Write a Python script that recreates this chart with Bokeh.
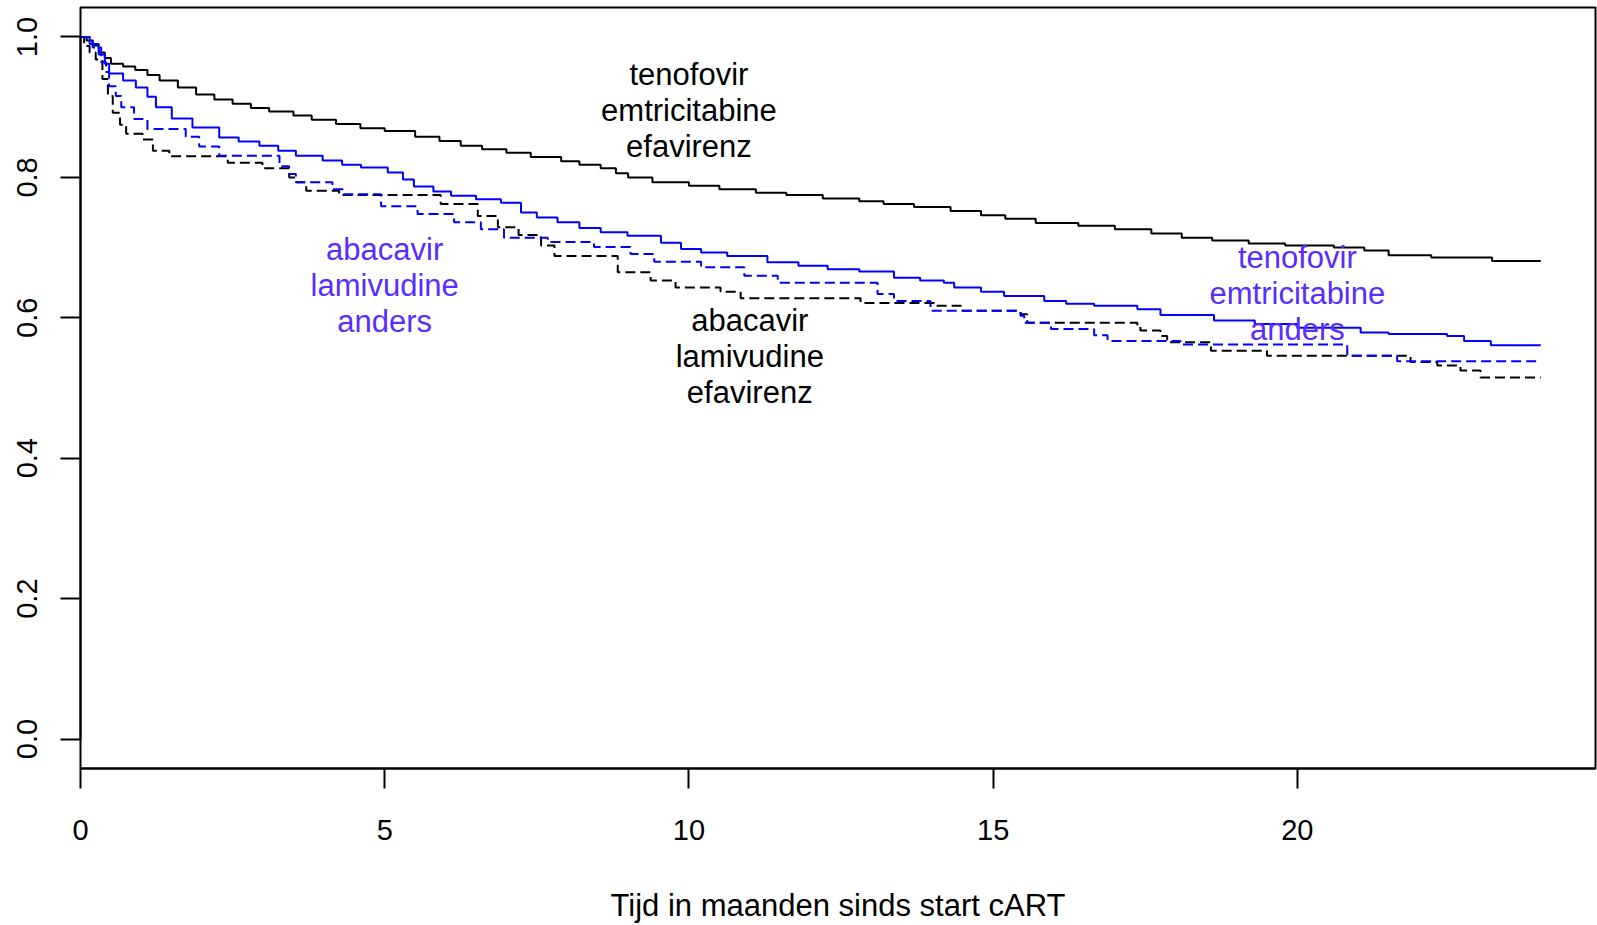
from bokeh.plotting import figure
from bokeh.models import FixedTicker, NumeralTickFormatter, Range1d, ColumnDataSource
from bokeh.embed import file_html
from bokeh.resources import INLINE
from bokeh.core.properties import value

# ---- data (Kaplan-Meier style step curves) ----
tef_t = [0, 0.1, 0.2, 0.3, 0.4, 0.5, 0.7, 0.9, 1.1, 1.3, 1.6, 1.9, 2.2, 2.5, 2.8, 3.1, 3.5, 3.8,
         4.2, 4.6, 5.0, 5.5, 5.9, 6.25, 6.6, 7.0, 7.4, 7.9, 8.2, 8.55, 8.8, 9.0, 9.4, 10.0, 10.5,
         11.1, 11.6, 12.2, 12.8, 13.2, 13.7, 14.3, 14.8, 15.2, 15.7, 16.4, 17.0, 17.6, 18.1, 18.6,
         19.2, 19.8, 20.6, 21.1, 21.5, 22.2, 23.2, 24.0]
tef_s = [1.0, 0.995, 0.988, 0.978, 0.97, 0.962, 0.958, 0.953, 0.946, 0.938, 0.928, 0.918, 0.911,
         0.905, 0.899, 0.894, 0.888, 0.882, 0.876, 0.870, 0.866, 0.858, 0.852, 0.845, 0.840, 0.835,
         0.829, 0.823, 0.818, 0.813, 0.806, 0.800, 0.793, 0.788, 0.783, 0.778, 0.775, 0.770, 0.766,
         0.762, 0.758, 0.752, 0.746, 0.741, 0.735, 0.731, 0.726, 0.720, 0.714, 0.710, 0.706, 0.703,
         0.700, 0.696, 0.689, 0.686, 0.681, 0.681]

tea_t = [0, 0.15, 0.3, 0.4, 0.47, 0.7, 0.91, 1.1, 1.24, 1.5, 1.84, 2.28, 2.6, 2.94, 3.25, 3.54,
         3.98, 4.3, 4.61, 5.05, 5.3, 5.48, 5.8, 6.09, 6.5, 6.91, 7.24, 7.5, 7.84, 8.2, 8.55, 8.99,
         9.54, 9.87, 10.2, 10.63, 11.29, 11.8, 12.28, 12.8, 13.37, 13.8, 14.19, 14.36, 14.8, 15.18,
         15.84, 16.2, 16.66, 17.37, 17.75, 18.63, 19.3, 20.0, 21.04, 21.5, 22.46, 22.74, 23.18, 24.0]
tea_s = [1.0, 0.99, 0.975, 0.962, 0.948, 0.938, 0.928, 0.915, 0.900, 0.884, 0.871, 0.857, 0.851,
         0.845, 0.838, 0.831, 0.824, 0.818, 0.814, 0.807, 0.797, 0.787, 0.780, 0.774, 0.769, 0.764,
         0.750, 0.743, 0.736, 0.728, 0.722, 0.717, 0.707, 0.698, 0.693, 0.688, 0.679, 0.674, 0.669,
         0.666, 0.657, 0.653, 0.650, 0.643, 0.637, 0.631, 0.624, 0.620, 0.617, 0.612, 0.604, 0.596,
         0.591, 0.586, 0.579, 0.577, 0.574, 0.567, 0.561, 0.561]

ale_t = [0, 0.06, 0.15, 0.25, 0.36, 0.45, 0.53, 0.65, 0.75, 1.02, 1.19, 1.46, 2.42, 2.99, 3.43,
         3.55, 3.71, 4.25, 5.92, 6.53, 6.86, 7.2, 7.57, 7.79, 8.83, 9.37, 9.78, 10.52, 10.85, 12.82,
         14.03, 14.47, 15.45, 15.56, 17.37, 17.42, 17.75, 17.86, 18.58, 19.5, 21.86, 22.3, 22.68,
         23.01, 24.0]
ale_s = [1.0, 0.987, 0.978, 0.968, 0.94, 0.916, 0.892, 0.875, 0.862, 0.854, 0.838, 0.830, 0.821,
         0.813, 0.800, 0.793, 0.781, 0.775, 0.762, 0.745, 0.729, 0.718, 0.703, 0.688, 0.665, 0.653,
         0.643, 0.637, 0.628, 0.621, 0.617, 0.610, 0.605, 0.593, 0.589, 0.582, 0.574, 0.565, 0.553,
         0.546, 0.537, 0.532, 0.525, 0.515, 0.515]

ala_t = [0, 0.2, 0.34, 0.42, 0.47, 0.58, 0.67, 0.88, 1.1, 1.73, 1.95, 2.28, 3.27, 3.43, 3.54, 4.14,
         4.31, 4.94, 5.54, 6.14, 6.58, 6.96, 7.68, 8.44, 9.04, 9.43, 10.2, 10.91, 11.46, 13.1, 13.37,
         13.97, 15.45, 15.51, 15.95, 16.66, 16.88, 18.08, 20.82, 21.64, 24.0]
ala_s = [1.0, 0.985, 0.964, 0.95, 0.93, 0.916, 0.90, 0.883, 0.869, 0.858, 0.844, 0.831, 0.816,
         0.805, 0.793, 0.783, 0.776, 0.759, 0.748, 0.736, 0.726, 0.714, 0.708, 0.701, 0.691, 0.680,
         0.672, 0.660, 0.650, 0.634, 0.624, 0.610, 0.603, 0.593, 0.584, 0.575, 0.567, 0.562, 0.546,
         0.538, 0.538]

label_text = ["tenofovir\nemtricitabine\nefavirenz",
              "abacavir\nlamivudine\nanders",
              "abacavir\nlamivudine\nefavirenz",
              "tenofovir\nemtricitabine\nanders"]
label_x = [10, 5, 11, 20]
label_y = [0.8955, 0.6455, 0.5455, 0.635]
label_color = ["black", "#5a2cff", "black", "#5a2cff"]

x_ticks = [0, 5, 10, 15, 20]
y_ticks = [0.0, 0.2, 0.4, 0.6, 0.8, 1.0]
x_title = "Tijd in maanden sinds start cART"

FONT = "Liberation Sans"

p = figure(width=1597, height=925, output_backend="svg", toolbar_location=None,
           x_range=Range1d(0, 24.9), y_range=Range1d(-0.042, 1.042),
           min_border_left=80, min_border_right=2, min_border_top=7, min_border_bottom=155)
p.background_fill_color = "white"
p.border_fill_color = "white"
p.outline_line_color = "black"
p.outline_line_width = 2
p.grid.visible = False

p.step(tef_t, tef_s, mode="after", line_color="black", line_width=2)
p.step(tea_t, tea_s, mode="after", line_color="#0000ff", line_width=2)
p.step(ale_t, ale_s, mode="after", line_color="black", line_width=2, line_dash="10 5")
p.step(ala_t, ala_s, mode="after", line_color="#0000ff", line_width=2, line_dash="10 5")

src = ColumnDataSource(dict(x=label_x, y=label_y, text=label_text, color=label_color))
p.text(x="x", y="y", text="text", source=src, text_color="color",
       text_font=value(FONT), text_font_size="31px", text_align="center",
       text_baseline="middle", text_line_height=1.03)

xa = p.xaxis[0]
xa.ticker = FixedTicker(ticks=x_ticks)
xa.axis_line_width = 2
xa.major_tick_line_width = 2
xa.major_tick_out = 20
xa.major_tick_in = 0
xa.minor_tick_line_color = None
xa.major_label_text_font = FONT
xa.major_label_text_font_size = "29px"
xa.major_label_text_color = "black"
xa.major_label_standoff = 31
xa.axis_label = x_title
xa.axis_label_text_font = FONT
xa.axis_label_text_font_size = "31px"
xa.axis_label_text_font_style = "normal"
xa.axis_label_text_color = "black"
xa.axis_label_standoff = 45

ya = p.yaxis[0]
ya.ticker = FixedTicker(ticks=y_ticks)
ya.formatter = NumeralTickFormatter(format="0.0")
ya.bounds = (0, 1)
ya.axis_line_width = 2
ya.major_tick_line_width = 2
ya.major_tick_out = 20
ya.major_tick_in = 0
ya.minor_tick_line_color = None
ya.major_label_text_font = FONT
ya.major_label_text_font_size = "29px"
ya.major_label_text_color = "black"
ya.major_label_orientation = "vertical"
ya.major_label_standoff = 23

open("out.html", "w").write(file_html(p, INLINE))
